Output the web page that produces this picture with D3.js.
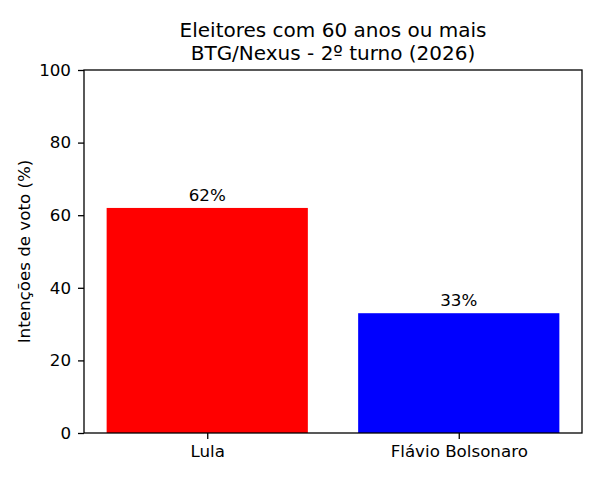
<!DOCTYPE html>
<html><head><meta charset="utf-8">
<script src="https://cdn.jsdelivr.net/npm/d3@7"></script>
<style>body{margin:0;background:#fff}svg{font-family:"DejaVu Sans",sans-serif}</style>
</head><body>
<svg id="c" width="600" height="480"></svg>
<script>
const categories = ["Lula", "Flávio Bolsonaro"];
const values = [62, 33];
const colors = ["#ff0000", "#0000ff"];
const yTicks = [0, 20, 40, 60, 80, 100];
const titleLines = ["Eleitores com 60 anos ou mais", "BTG/Nexus - 2º turno (2026)"];
const yLabel = "Intenções de voto (%)";

const svg = d3.select("#c");
const m = {left: 84, right: 582, top: 70, bottom: 433};
const x = d3.scaleLinear().domain([-0.49, 1.49]).range([m.left, m.right]);
const y = d3.scaleLinear().domain([0, 100]).range([m.bottom, m.top]);
const bw = 0.8;
const fs = 16.7;

svg.selectAll("rect.bar").data(values).join("rect")
  .attr("class", "bar")
  .attr("x", (d, i) => x(i - bw / 2))
  .attr("width", (d, i) => x(i + bw / 2) - x(i - bw / 2))
  .attr("y", d => y(d))
  .attr("height", d => y(0) - y(d))
  .attr("fill", (d, i) => colors[i]);

svg.selectAll("text.vl").data(values).join("text")
  .attr("class", "vl")
  .attr("x", (d, i) => x(i))
  .attr("y", d => y(d) - 7)
  .attr("text-anchor", "middle")
  .attr("font-size", fs)
  .text(d => d + "%");

const yAxis = d3.axisLeft(y).tickValues(yTicks).tickSize(6).tickPadding(7).tickFormat(d3.format("d"));
const gy = svg.append("g").attr("transform", `translate(${m.left},0)`).call(yAxis);
gy.select(".domain").remove();
gy.selectAll("text").attr("font-size", fs).attr("fill", "#000").attr("font-family", "DejaVu Sans");
gy.selectAll("line").attr("stroke", "#000").attr("stroke-width", 1.3);

const xAxis = d3.axisBottom(x).tickValues(categories.map((c, i) => i)).tickSize(6).tickPadding(6).tickFormat(i => categories[i]);
const gx = svg.append("g").attr("transform", `translate(0,${m.bottom})`).call(xAxis);
gx.select(".domain").remove();
gx.selectAll("text").attr("font-size", fs).attr("fill", "#000").attr("font-family", "DejaVu Sans");
gx.selectAll("line").attr("stroke", "#000").attr("stroke-width", 1.3);

svg.append("rect").attr("x", m.left).attr("y", m.top)
  .attr("width", m.right - m.left).attr("height", m.bottom - m.top)
  .attr("fill", "none").attr("stroke", "#000").attr("stroke-width", 1.3);

svg.append("text").attr("transform", `translate(29.5,${(m.top + m.bottom) / 2}) rotate(-90)`)
  .attr("text-anchor", "middle").attr("font-size", fs).text(yLabel);

svg.selectAll("text.title").data(titleLines).join("text")
  .attr("class", "title")
  .attr("x", (m.left + m.right) / 2)
  .attr("y", (d, i) => 36.5 + i * 23)
  .attr("text-anchor", "middle")
  .attr("font-size", 20)
  .text(d => d);
</script>
</body></html>
